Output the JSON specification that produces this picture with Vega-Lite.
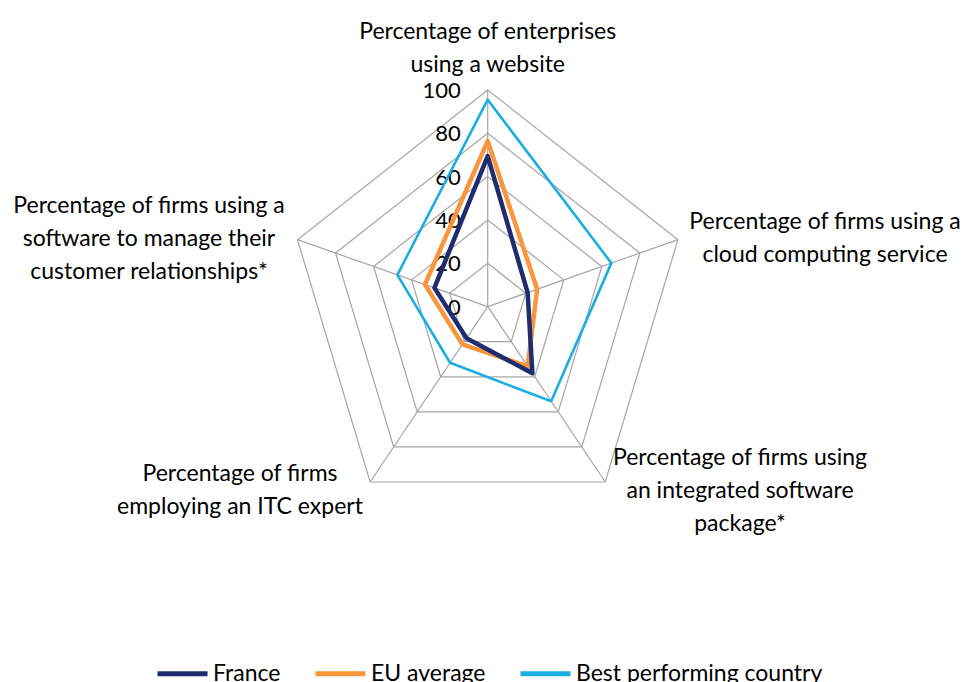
{
  "$schema": "https://vega.github.io/schema/vega-lite/v6.json",
  "width": 966,
  "height": 682,
  "autosize": {"type": "none"},
  "padding": 0,
  "background": "white",
  "config": {"view": {"stroke": null}, "font": "Lato", "text": {"font": "Lato"}},
  "datasets": {
    "series": [
      {"series": "France", "axis": 0, "value": 69.5},
      {"series": "France", "axis": 1, "value": 21},
      {"series": "France", "axis": 2, "value": 38},
      {"series": "France", "axis": 3, "value": 18},
      {"series": "France", "axis": 4, "value": 28},
      {"series": "EU average", "axis": 0, "value": 76.5},
      {"series": "EU average", "axis": 1, "value": 26},
      {"series": "EU average", "axis": 2, "value": 34},
      {"series": "EU average", "axis": 3, "value": 21.5},
      {"series": "EU average", "axis": 4, "value": 33},
      {"series": "Best performing country", "axis": 0, "value": 95.5},
      {"series": "Best performing country", "axis": 1, "value": 65},
      {"series": "Best performing country", "axis": 2, "value": 54},
      {"series": "Best performing country", "axis": 3, "value": 32},
      {"series": "Best performing country", "axis": 4, "value": 47.5}
    ],
    "rings": [
      {"level": 20, "axes": [0, 1, 2, 3, 4]},
      {"level": 40, "axes": [0, 1, 2, 3, 4]},
      {"level": 60, "axes": [0, 1, 2, 3, 4]},
      {"level": 80, "axes": [0, 1, 2, 3, 4]},
      {"level": 100, "axes": [0, 1, 2, 3, 4]}
    ],
    "axes": [
      {"axis": 0, "label": "Percentage of enterprises\nusing a website"},
      {"axis": 1, "label": "Percentage of firms using a\ncloud computing service"},
      {"axis": 2, "label": "Percentage of firms using\nan integrated software\npackage*"},
      {"axis": 3, "label": "Percentage of firms\nemploying an ITC expert"},
      {"axis": 4, "label": "Percentage of firms using a\nsoftware to manage their\ncustomer relationships*"}
    ],
    "levels": [
      {"level": 0}, {"level": 20}, {"level": 40}, {"level": 60}, {"level": 80}, {"level": 100}
    ]
  },
  "layer": [
    {
      "data": {"name": "rings"},
      "transform": [
        {"flatten": ["axes"], "as": ["axis"]},
        {"calculate": "datum.level*sin(datum.axis*2*PI/5)", "as": "px"},
        {"calculate": "datum.level*cos(datum.axis*2*PI/5)", "as": "py"}
      ],
      "mark": {"type": "line", "interpolate": "linear-closed", "color": "#A6A6A6", "strokeWidth": 1.2},
      "encoding": {
        "x": {"field": "px", "type": "quantitative", "scale": {"domain": [-243.85, 239.15], "nice": false, "zero": false}, "axis": null},
        "y": {"field": "py", "type": "quantitative", "scale": {"domain": [-173.2, 141.5], "nice": false, "zero": false}, "axis": null},
        "detail": {"field": "level", "type": "nominal"},
        "order": {"field": "axis", "type": "quantitative"}
      }
    },
    {
      "data": {"name": "axes"},
      "transform": [
        {"calculate": "100*sin(datum.axis*2*PI/5)", "as": "ex"},
        {"calculate": "100*cos(datum.axis*2*PI/5)", "as": "ey"},
        {"calculate": "0", "as": "c"}
      ],
      "mark": {"type": "rule", "color": "#A6A6A6", "strokeWidth": 1.2},
      "encoding": {
        "x": {"field": "c", "type": "quantitative", "scale": {"domain": [-243.85, 239.15], "nice": false, "zero": false}, "axis": null},
        "y": {"field": "c", "type": "quantitative", "scale": {"domain": [-173.2, 141.5], "nice": false, "zero": false}, "axis": null},
        "x2": {"field": "ex"},
        "y2": {"field": "ey"}
      }
    },
    {
      "data": {"name": "levels"},
      "transform": [{"calculate": "0", "as": "c"}],
      "mark": {"type": "text", "align": "right", "baseline": "middle", "dx": -27, "dy": 1, "fontSize": 22, "color": "black"},
      "encoding": {
        "x": {"field": "c", "type": "quantitative", "scale": {"domain": [-243.85, 239.15], "nice": false, "zero": false}, "axis": null},
        "y": {"field": "level", "type": "quantitative", "scale": {"domain": [-173.2, 141.5], "nice": false, "zero": false}, "axis": null},
        "text": {"field": "level", "type": "quantitative"}
      }
    },
    {
      "data": {"name": "series"},
      "transform": [
        {"filter": "datum.series == 'Best performing country'"},
        {"calculate": "datum.value*sin(datum.axis*2*PI/5)", "as": "px"},
        {"calculate": "datum.value*cos(datum.axis*2*PI/5)", "as": "py"}
      ],
      "mark": {"type": "line", "interpolate": "linear-closed", "strokeWidth": 2.6, "strokeJoin": "round"},
      "encoding": {
        "x": {"field": "px", "type": "quantitative", "scale": {"domain": [-243.85, 239.15], "nice": false, "zero": false}, "axis": null},
        "y": {"field": "py", "type": "quantitative", "scale": {"domain": [-173.2, 141.5], "nice": false, "zero": false}, "axis": null},
        "order": {"field": "axis", "type": "quantitative"},
        "color": {
          "field": "series",
          "type": "nominal",
          "scale": {"domain": ["France", "EU average", "Best performing country"], "range": ["#1F2D6E", "#F7963D", "#1BAEE3"]},
          "legend": {
            "orient": "none",
            "legendX": 155,
            "legendY": 646,
            "direction": "horizontal",
            "title": null,
            "symbolType": "stroke",
            "symbolSize": 2500,
            "symbolStrokeWidth": 5,
            "labelFont": "Lato",
            "labelFontSize": 23,
            "labelColor": "black",
            "labelOffset": 3,
            "columnPadding": 24,
            "labelLimit": 400,
            "padding": 0
          }
        }
      }
    },
    {
      "data": {"name": "series"},
      "transform": [
        {"filter": "datum.series == 'EU average'"},
        {"calculate": "datum.value*sin(datum.axis*2*PI/5)", "as": "px"},
        {"calculate": "datum.value*cos(datum.axis*2*PI/5)", "as": "py"}
      ],
      "mark": {"type": "line", "interpolate": "linear-closed", "strokeWidth": 4.5, "strokeJoin": "round"},
      "encoding": {
        "x": {"field": "px", "type": "quantitative", "scale": {"domain": [-243.85, 239.15], "nice": false, "zero": false}, "axis": null},
        "y": {"field": "py", "type": "quantitative", "scale": {"domain": [-173.2, 141.5], "nice": false, "zero": false}, "axis": null},
        "order": {"field": "axis", "type": "quantitative"},
        "color": {"field": "series", "type": "nominal"}
      }
    },
    {
      "data": {"name": "series"},
      "transform": [
        {"filter": "datum.series == 'France'"},
        {"calculate": "datum.value*sin(datum.axis*2*PI/5)", "as": "px"},
        {"calculate": "datum.value*cos(datum.axis*2*PI/5)", "as": "py"}
      ],
      "mark": {"type": "line", "interpolate": "linear-closed", "strokeWidth": 4.5, "strokeJoin": "round"},
      "encoding": {
        "x": {"field": "px", "type": "quantitative", "scale": {"domain": [-243.85, 239.15], "nice": false, "zero": false}, "axis": null},
        "y": {"field": "py", "type": "quantitative", "scale": {"domain": [-173.2, 141.5], "nice": false, "zero": false}, "axis": null},
        "order": {"field": "axis", "type": "quantitative"},
        "color": {"field": "series", "type": "nominal"}
      }
    },
    {
      "data": {"name": "axes"},
      "transform": [{"filter": "datum.axis == 0"}],
      "mark": {"type": "text", "align": "center", "baseline": "alphabetic", "lineBreak": "\n", "lineHeight": 33, "fontSize": 23, "color": "black"},
      "encoding": {
        "x": {"datum": 0, "type": "quantitative", "scale": {"domain": [-243.85, 239.15], "nice": false, "zero": false}, "axis": null},
        "y": {"datum": 123.5, "type": "quantitative", "scale": {"domain": [-173.2, 141.5], "nice": false, "zero": false}, "axis": null},
        "text": {"field": "label", "type": "nominal"}
      }
    },
    {
      "data": {"name": "axes"},
      "transform": [{"filter": "datum.axis == 1"}],
      "mark": {"type": "text", "align": "center", "baseline": "alphabetic", "lineBreak": "\n", "lineHeight": 33, "fontSize": 23, "color": "black"},
      "encoding": {
        "x": {"datum": 168.65, "type": "quantitative", "scale": {"domain": [-243.85, 239.15], "nice": false, "zero": false}, "axis": null},
        "y": {"datum": 35.9, "type": "quantitative", "scale": {"domain": [-173.2, 141.5], "nice": false, "zero": false}, "axis": null},
        "text": {"field": "label", "type": "nominal"}
      }
    },
    {
      "data": {"name": "axes"},
      "transform": [{"filter": "datum.axis == 2"}],
      "mark": {"type": "text", "align": "center", "baseline": "alphabetic", "lineBreak": "\n", "lineHeight": 33, "fontSize": 23, "color": "black"},
      "encoding": {
        "x": {"datum": 126.15, "type": "quantitative", "scale": {"domain": [-243.85, 239.15], "nice": false, "zero": false}, "axis": null},
        "y": {"datum": -73.05, "type": "quantitative", "scale": {"domain": [-173.2, 141.5], "nice": false, "zero": false}, "axis": null},
        "text": {"field": "label", "type": "nominal"}
      }
    },
    {
      "data": {"name": "axes"},
      "transform": [{"filter": "datum.axis == 3"}],
      "mark": {"type": "text", "align": "center", "baseline": "alphabetic", "lineBreak": "\n", "lineHeight": 33, "fontSize": 23, "color": "black"},
      "encoding": {
        "x": {"datum": -123.85, "type": "quantitative", "scale": {"domain": [-243.85, 239.15], "nice": false, "zero": false}, "axis": null},
        "y": {"datum": -80.4, "type": "quantitative", "scale": {"domain": [-173.2, 141.5], "nice": false, "zero": false}, "axis": null},
        "text": {"field": "label", "type": "nominal"}
      }
    },
    {
      "data": {"name": "axes"},
      "transform": [{"filter": "datum.axis == 4"}],
      "mark": {"type": "text", "align": "center", "baseline": "alphabetic", "lineBreak": "\n", "lineHeight": 33, "fontSize": 23, "color": "black"},
      "encoding": {
        "x": {"datum": -169.35, "type": "quantitative", "scale": {"domain": [-243.85, 239.15], "nice": false, "zero": false}, "axis": null},
        "y": {"datum": 43.2, "type": "quantitative", "scale": {"domain": [-173.2, 141.5], "nice": false, "zero": false}, "axis": null},
        "text": {"field": "label", "type": "nominal"}
      }
    }
  ]
}
